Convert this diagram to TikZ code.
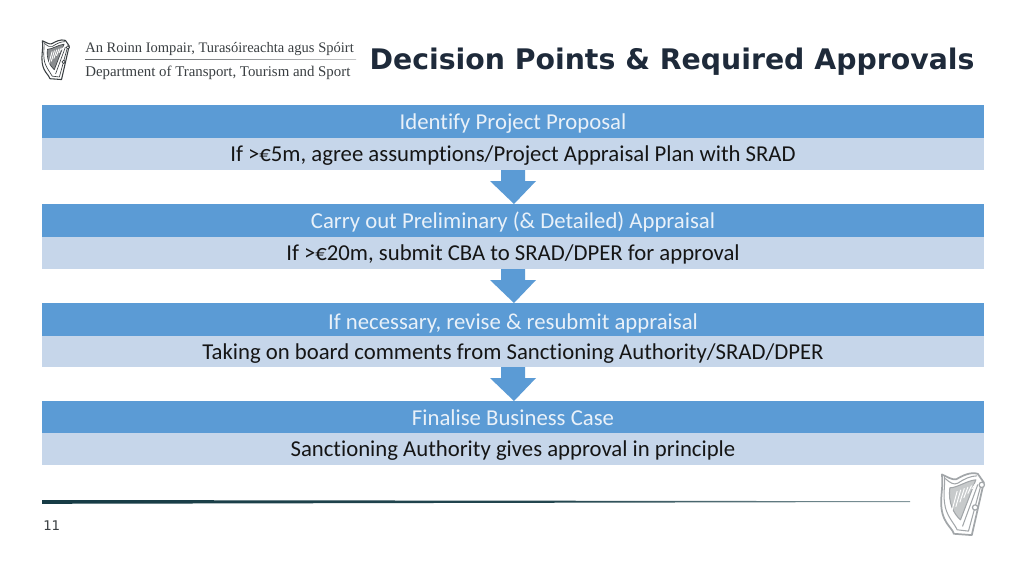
\documentclass[tikz,border=0pt]{standalone}
\usepackage{fontspec}
\setmainfont[RawFeature={-liga;-clig}]{Carlito}
\newfontfamily\titlefont{DejaVu Sans}
\newfontfamily\logofont{Liberation Serif}
\usetikzlibrary{calc}
\definecolor{headblue}{HTML}{5B9BD5}
\definecolor{subblue}{HTML}{C6D6EA}
\definecolor{headtext}{HTML}{E9F1F9}
\definecolor{bodytext}{HTML}{151515}
\definecolor{titleink}{HTML}{1E2A3A}
\definecolor{ruleink}{HTML}{0B323C}
\definecolor{harpink}{HTML}{3A3F42}
\definecolor{harpgrey}{HTML}{A2A6A9}
\pgfdeclarehorizontalshading{fadeRule}{100bp}{
  color(0bp)=(ruleink); color(55bp)=(ruleink!90!white); color(75bp)=(ruleink!50!white);
  color(100bp)=(white)}
\pgfdeclarehorizontalshading{fadeLogo}{100bp}{
  color(0bp)=(harpink); color(50bp)=(harpink!60!white); color(100bp)=(white)}
\tikzset{
  headbox/.style={rectangle,fill=headblue,text=headtext,outer sep=0pt,inner sep=0pt,
    minimum width=706.5pt,text height=15.5pt,text depth=3pt,font=\fontsize{17.05}{19}\selectfont},
  subbox/.style={rectangle,fill=subblue,text=bodytext,outer sep=0pt,inner sep=0pt,
    minimum width=706.5pt,text height=14.5pt,text depth=3pt,font=\fontsize{17.05}{19}\selectfont},
  flowarrow/.style={fill=headblue},
  harp/.pic={
    \tikzset{every path/.style={draw=#1,line join=round}}
    \draw[line width=\hw] (4,6) .. controls (20,12) and (35,24) .. (48,20)
      .. controls (65,10) and (90,-3) .. (112,4) -- (130,30) -- (94,188)
      -- (40,184) .. controls (36,165) and (0,150) .. (2,85) .. controls (3,55) and (8,30) .. (4,6) -- cycle;
    \draw[line width=.6*\hw] (12,10) .. controls (14,40) and (8,60) .. (12,90)
      .. controls (16,130) and (40,150) .. (50,172) -- (84,176) -- (122,36);
    \draw[line width=.6*\hw] (14,18) .. controls (30,32) and (40,38) .. (52,32)
      .. controls (70,20) and (90,10) .. (110,10);
    \draw[fill=#1!60!white,line width=.6*\hw] (28,46) .. controls (50,46) and (80,24) .. (106,22)
      -- (60,142) .. controls (40,125) and (22,90) .. (28,46) -- cycle;
    \foreach \dx in {0,12,24,36,48,60}{
      \draw[white,line width=.7pt] (34+\dx,128-\dx*1.1-12) -- (50+\dx*.9,44-\dx*.35+12);}
    \draw[line width=.6*\hw] (112,36) -- (66,162);
    \draw[fill=white,line width=.7*\hw] (124,37) circle (8);
    \draw[fill=white,line width=.7*\hw] (104,105) circle (8);
  }
}
\begin{document}
\begin{tikzpicture}[x=.75pt,y=-.75pt]
\useasboundingbox (0,0) rectangle (1024,576);
\fill[white] (0,0) rectangle (1024,576);

% header
\def\hw{.8pt}
\pic[scale=.213] at (41.5,39.5) {harp=harpink};
\node[anchor=west,inner sep=0pt,text=harpink,font=\logofont\fontsize{10.9}{12}\selectfont] (logoGa) at (85,49.5) {An Roinn Iompair, Turasóireachta agus Spóirt};
\shade[shading=fadeLogo] (85,59) rectangle (356,59.8);
\node[anchor=west,inner sep=0pt,text=harpink,font=\logofont\fontsize{11.15}{12}\selectfont] (logoEn) at (85,72.5) {Department of Transport, Tourism and Sport};
\node[anchor=center,inner sep=0pt,text=titleink,font=\titlefont\bfseries\fontsize{21.25}{26}\selectfont] (title) at (672,61.5) {Decision Points \& Required Approvals};

% rows
\node[headbox,minimum height=24.75pt] (h1) at (513,121.5) {Identify Project Proposal};
\node[subbox,minimum height=24pt] (s1) at (513,154) {If >€5m, agree assumptions/Project Appraisal Plan with SRAD};
\node[headbox,minimum height=24.75pt] (h2) at (513,220.5) {Carry out Preliminary (\& Detailed) Appraisal};
\node[subbox,minimum height=24pt] (s2) at (513,253) {If >€20m, submit CBA to SRAD/DPER for approval};
\node[headbox,minimum height=24.75pt,text height=18pt] (h3) at (513,319.5) {If necessary, revise \& resubmit appraisal};
\node[subbox,minimum height=23.25pt] (s3) at (513,351.5) {Taking on board comments from Sanctioning Authority/SRAD/DPER};
\node[headbox,minimum height=24pt] (h4) at (513,417) {Finalise Business Case};
\node[subbox,minimum height=24pt] (s4) at (513,449) {Sanctioning Authority gives approval in principle};

% arrows
\foreach \a in {s1,s2,s3}{
  \fill[flowarrow,shift={(\a.south)}] (-12,0) -- (12,0) -- (12,11) -- (23,11) -- (1,34) -- (-23,11) -- (-12,11) -- cycle;
}

% footer
\shade[shading=fadeRule] (42,500) -- (910,501.2) -- (910,502) -- (42,503.8) -- cycle;
\node[anchor=west,inner sep=0pt,text=harpink,font=\titlefont\fontsize{10}{12}\selectfont] (pageno) at (43,526) {11};
\def\hw{1.3pt}
\pic[scale=.333] at (940.5,472.5) {harp=harpgrey};
\end{tikzpicture}
\end{document}
